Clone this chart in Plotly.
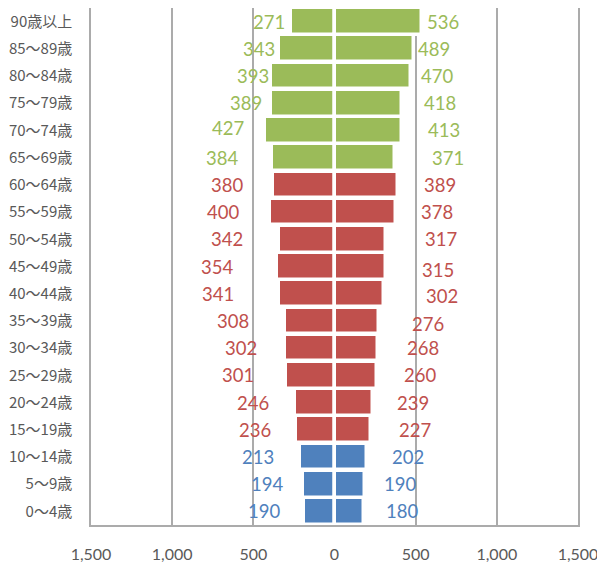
import plotly.graph_objects as go

# Age groups (bottom to top)
ages = ["0～4歳", "5～9歳", "10～14歳", "15～19歳", "20～24歳", "25～29歳",
        "30～34歳", "35～39歳", "40～44歳", "45～49歳", "50～54歳", "55～59歳",
        "60～64歳", "65～69歳", "70～74歳", "75～79歳", "80～84歳", "85～89歳",
        "90歳以上"]
left_values = [190, 194, 213, 236, 246, 301, 302, 308, 341, 354, 342, 400,
               380, 384, 427, 389, 393, 343, 271]
right_values = [180, 190, 202, 227, 239, 260, 268, 276, 302, 315, 317, 378,
                389, 371, 413, 418, 470, 489, 536]
groups = ["young"] * 3 + ["working"] * 10 + ["old"] * 6

tick_vals = [-1500, -1000, -500, 0, 500, 1000, 1500]
tick_text = ["1,500", "1,000", "500", "0", "500", "1,000", "1,500"]

# styling
group_colors = {"young": "#4F81BD", "working": "#C0504D", "old": "#9BBB59"}
left_label_xshift = [-39.7, -36.1, -42.3, -40.8, -41.6, -47.2, -44.6, -51.6, -61.3,
                     -60.2, -51.6, -46.7, -45.4, -50, -37.3, -25.5, -18.1, -20.1, -21.1]
right_label_xshift = [38.5, 34.9, 40.6, 43.5, 39.8, 43.2, 44.9, 49.1, 58.9, 52.8,
                      55.1, 41.6, 42.5, 53.1, 42.3, 37.8, 26.4, 20.3, 21]
left_label_yshift = [0] * 14 + [2] + [0] * 4
right_label_yshift = [0] * 7 + [-3, -2, -3] + [0] * 9

colors = [group_colors[g] for g in groups]
GRID = "#ABABAB"
TXT = "#595959"
FONT = "Lato, 'Noto Sans CJK JP', sans-serif"

fig = go.Figure()
fig.add_trace(go.Bar(y=ages, x=[-v for v in left_values], orientation="h",
                     marker=dict(color=colors, line=dict(color="white", width=3.5)),
                     width=0.98, showlegend=False, hoverinfo="skip"))
fig.add_trace(go.Bar(y=ages, x=right_values, orientation="h",
                     marker=dict(color=colors, line=dict(color="white", width=3.5)),
                     width=0.98, showlegend=False, hoverinfo="skip"))

for i, age in enumerate(ages):
    c = colors[i]
    fig.add_annotation(x=-left_values[i], y=age, text=str(left_values[i]),
                       showarrow=False, xanchor="center", yanchor="middle",
                       xshift=left_label_xshift[i], yshift=left_label_yshift[i],
                       font=dict(family=FONT, size=18.5, color=c))
    fig.add_annotation(x=right_values[i], y=age, text=str(right_values[i]),
                       showarrow=False, xanchor="center", yanchor="middle",
                       xshift=right_label_xshift[i], yshift=right_label_yshift[i],
                       font=dict(family=FONT, size=18.5, color=c))

fig.update_layout(
    width=597, height=560,
    margin=dict(l=83, r=27, t=0, b=43, autoexpand=False),
    paper_bgcolor="white", plot_bgcolor="white",
    barmode="overlay", bargap=0,
    font=dict(family=FONT, color=TXT),
)
fig.update_xaxes(range=[-1500, 1500], tickvals=tick_vals, ticktext=tick_text,
                 showgrid=True, gridcolor=GRID, gridwidth=1.5, zeroline=False,
                 showline=True, linecolor=GRID, linewidth=1.5, mirror=True,
                 ticks="", ticklabelstandoff=14, automargin=False,
                 tickfont=dict(family=FONT, size=16, color=TXT), fixedrange=True)
fig.update_yaxes(type="category", categoryorder="array", categoryarray=ages,
                 range=[-0.5, len(ages) - 0.5],
                 showgrid=False, zeroline=False,
                 showline=True, linecolor=GRID, linewidth=1.5, mirror=True,
                 ticks="", ticklabelstandoff=14, automargin=False,
                 tickfont=dict(family="'Noto Sans CJK JP', sans-serif", size=15, color=TXT),
                 fixedrange=True)

fig.write_html("out.html")
